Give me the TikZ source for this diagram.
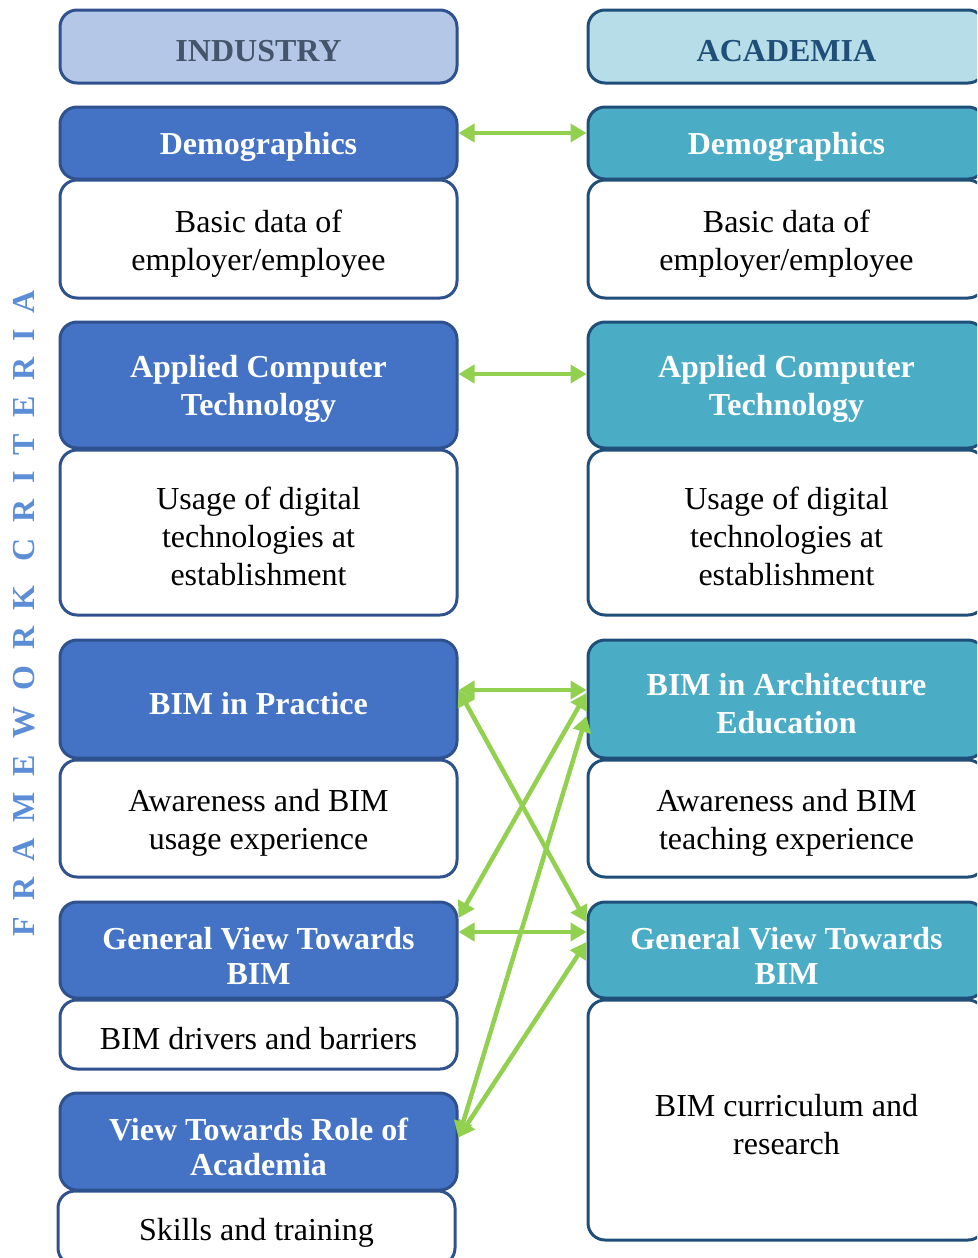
\documentclass[tikz,border=0pt]{standalone}
\usepackage{fontspec}
\setmainfont{Liberation Serif}
\newfontfamily\fwfont[LetterSpace=50]{Liberation Serif}
\usetikzlibrary{arrows.meta}
\newcommand\mystrut{\rule{0pt}{31pt}}
\newcommand\mytightstrut{\rule{0pt}{34pt}}
\definecolor{bordL}{HTML}{2F528F}
\definecolor{bordR}{HTML}{1F4E79}
\definecolor{fillL}{HTML}{4472C4}
\definecolor{fillR}{HTML}{4BACC6}
\definecolor{hdrL}{HTML}{B4C7E7}
\definecolor{hdrR}{HTML}{B7DEE8}
\definecolor{hdrLtxt}{HTML}{44546A}
\definecolor{hdrRtxt}{HTML}{1F4E79}
\definecolor{arrowgreen}{HTML}{92D050}
\definecolor{fwblue}{HTML}{5B8ED6}
\begin{document}
\begin{tikzpicture}[x=1pt,y=1pt,
  box/.style={rounded corners=17pt, line width=3pt, minimum width=397pt, inner sep=0pt, align=center},
  hdrLbox/.style={box, fill=hdrL, draw=bordL, text=hdrLtxt, font=\bfseries\fontsize{32}{38}\selectfont},
  hdrRbox/.style={box, fill=hdrR, draw=bordR, text=hdrRtxt, font=\bfseries\fontsize{32}{38}\selectfont},
  catL/.style={box, fill=fillL, draw=bordL, text=white, font=\bfseries\fontsize{32}{38}\selectfont},
  catR/.style={box, fill=fillR, draw=bordR, text=white, font=\bfseries\fontsize{32}{38}\selectfont},
  tight/.style={font=\bfseries\fontsize{32}{35}\selectfont},
  descL/.style={box, fill=white, draw=bordL, text=black, font=\fontsize{32}{38}\selectfont},
  descR/.style={box, fill=white, draw=bordR, text=black, font=\fontsize{32}{38}\selectfont},
  garrow/.style={draw=arrowgreen, line width=4.5pt,
    {Triangle[length=16pt,width=18pt]}-{Triangle[length=16pt,width=18pt]}}
]
\clip (0,0) rectangle (977,-1258);

% vertical label
\node[rotate=90, text=fwblue, font=\fwfont\bfseries\fontsize{32}{38}\selectfont] (fw) at (24,-613) {FRAMEWORK CRITERIA};

% left column
\node[hdrLbox, minimum height=73pt] (lhead) at (258.5,-46.5) {\mystrut INDUSTRY};
\node[catL, minimum height=72pt] (ldem) at (258.5,-143) {\mystrut Demographics};
\node[descL, minimum height=118pt] (ldemd) at (258.5,-239) {\mystrut Basic data of\\employer/employee};
\node[catL, minimum height=126pt] (lact) at (258.5,-385) {\mystrut Applied Computer\\Technology};
\node[descL, minimum height=165pt] (lactd) at (258.5,-532.5) {\mystrut Usage of digital\\technologies at\\establishment};
\node[catL, minimum height=118pt] (lbim) at (258.5,-699) {\mystrut BIM in Practice};
\node[descL, minimum height=117pt] (lbimd) at (258.5,-818.5) {\mystrut Awareness and BIM\\usage experience};
\node[catL, tight, minimum height=96pt] (lgv) at (258.5,-950) {\mytightstrut General View Towards\\BIM};
\node[descL, minimum height=69pt] (lgvd) at (258.5,-1034.5) {\mystrut BIM drivers and barriers};
\node[catL, tight, minimum height=97pt] (lrole) at (258.5,-1141.5) {\mytightstrut View Towards Role of\\Academia};
\node[descL, minimum height=74pt] (lroled) at (256.5,-1228) {\mystrut Skills and training};

% right column
\node[hdrRbox, minimum height=73pt] (rhead) at (786.5,-46.5) {\mystrut ACADEMIA};
\node[catR, minimum height=72pt] (rdem) at (786.5,-143) {\mystrut Demographics};
\node[descR, minimum height=118pt] (rdemd) at (786.5,-239) {\mystrut Basic data of\\employer/employee};
\node[catR, minimum height=126pt] (ract) at (786.5,-385) {\mystrut Applied Computer\\Technology};
\node[descR, minimum height=165pt] (ractd) at (786.5,-532.5) {\mystrut Usage of digital\\technologies at\\establishment};
\node[catR, minimum height=118pt] (rbim) at (786.5,-699) {\mystrut BIM in Architecture\\Education};
\node[descR, minimum height=117pt] (rbimd) at (786.5,-818.5) {\mystrut Awareness and BIM\\teaching experience};
\node[catR, tight, minimum height=96pt] (rgv) at (786.5,-950) {\mytightstrut General View Towards\\BIM};
\node[descR, minimum height=240pt] (rgvd) at (786.5,-1120) {\mystrut BIM curriculum and\\research};

% connectors
\draw[garrow] ([yshift=10pt]ldem.east) -- ([yshift=10pt]rdem.west);
\draw[garrow] ([yshift=11pt]lact.east) -- ([yshift=11pt]ract.west);
\draw[garrow] ([yshift=9pt]lbim.east) -- ([yshift=9pt]rbim.west);
\draw[garrow] ([yshift=9pt]lbim.east) -- ([yshift=28pt]rgv.west);
\draw[garrow] ([yshift=32pt]lgv.east) -- ([yshift=6pt]rbim.west);
\draw[garrow] ([yshift=18pt]lgv.east) -- ([yshift=18pt]rgv.west);
\draw[garrow] ([yshift=4pt]lrole.east) -- ([yshift=-17pt]rbim.west);
\draw[garrow] ([yshift=4pt]lrole.east) -- ([yshift=8pt]rgv.west);
\end{tikzpicture}
\end{document}
